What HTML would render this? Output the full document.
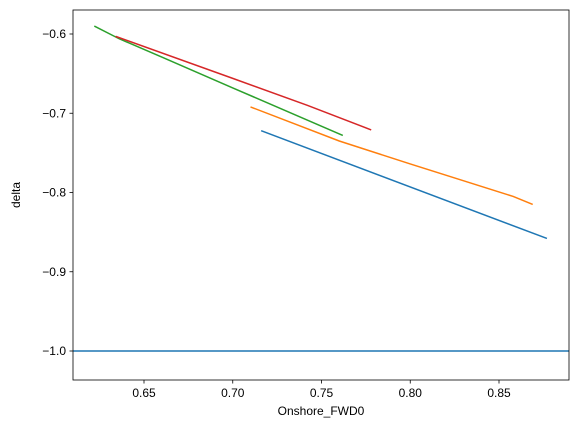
<!DOCTYPE html>
<html><head><meta charset="utf-8">
<style>
html,body{margin:0;padding:0;background:#fff;}
svg text{font-family:"Liberation Sans","DejaVu Sans",sans-serif;font-size:12px;fill:#000;}
</style></head>
<body>
<svg id="chart" width="578" height="433" xmlns="http://www.w3.org/2000/svg"></svg>
<script>
const xTicks=[0.65,0.70,0.75,0.80,0.85];
const xTickLabels=["0.65","0.70","0.75","0.80","0.85"];
const yTicks=[-0.6,-0.7,-0.8,-0.9,-1.0];
const yTickLabels=["\u22120.6","\u22120.7","\u22120.8","\u22120.9","\u22121.0"];
const blueX=[0.716,0.877];
const blueY=[-0.722,-0.858];
const orangeX=[0.710,0.760,0.800,0.858,0.869];
const orangeY=[-0.692,-0.735,-0.764,-0.805,-0.815];
const greenX=[0.622,0.636,0.661,0.700,0.762];
const greenY=[-0.590,-0.606,-0.630,-0.668,-0.728];
const redX=[0.634,0.700,0.742,0.778];
const redY=[-0.603,-0.656,-0.690,-0.721];
const hLineY=-1.0;

const L=73,R=569,T=10,B=380;
function sx(v){return 144+(v-0.65)/0.05*88.75;}
function sy(v){return 34+(-0.6-v)/0.1*79.25;}
const svg=document.getElementById('chart');
const NS='http://www.w3.org/2000/svg';
function mk(tag,attrs){const e=document.createElementNS(NS,tag);for(const k in attrs)e.setAttribute(k,attrs[k]);svg.appendChild(e);return e;}

const hl=mk('line',{x1:L,x2:R,y1:sy(hLineY),y2:sy(hLineY),stroke:'#1f77b4','stroke-width':1.5});



function series(xs,ys,color,name){
  const pts=xs.map((x,i)=>sx(x)+','+sy(ys[i])).join(' ');
  const p=mk('polyline',{points:pts,fill:'none',stroke:color,'stroke-width':1.5});
  
  
}
series(blueX,blueY,'#1f77b4','series-blue');
series(orangeX,orangeY,'#ff7f0e','series-orange');
series(greenX,greenY,'#2ca02c','series-green');
series(redX,redY,'#d62728','series-red');

const frame=mk('rect',{x:L,y:T,width:R-L,height:B-T,fill:'none',stroke:'#000','stroke-width':0.8});



xTicks.forEach((v,i)=>{
  const x=sx(v);
  const t=mk('line',{x1:x,x2:x,y1:B,y2:B+3.5,stroke:'#000','stroke-width':0.8});
  
  
  const l=mk('text',{x:x,y:B+17,'text-anchor':'middle'});
  l.textContent=xTickLabels[i];
  
  
});
yTicks.forEach((v,i)=>{
  const y=sy(v);
  const t=mk('line',{x1:L-3.5,x2:L,y1:y,y2:y,stroke:'#000','stroke-width':0.8});
  
  
  const l=mk('text',{x:L-7,y:y+4,'text-anchor':'end'});
  l.textContent=yTickLabels[i];
  
  
});
const xt=mk('text',{x:(L+R)/2,y:415,'text-anchor':'middle'});
xt.textContent='Onshore_FWD0';


const yt=mk('text',{x:20,y:(T+B)/2,'text-anchor':'middle',transform:'rotate(-90 20 '+((T+B)/2)+')'});
yt.textContent='delta';


</script>
</body></html>
